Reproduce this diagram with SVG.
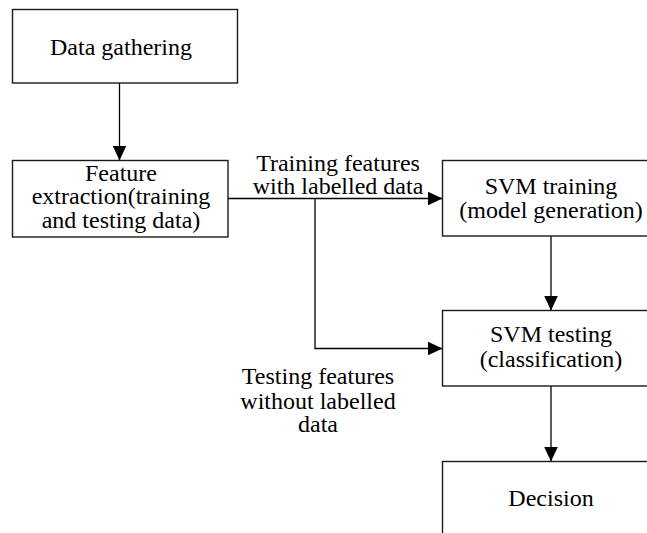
<svg xmlns="http://www.w3.org/2000/svg" width="647" height="533" viewBox="0 0 647 533">
<defs>
<style>
.box{fill:#fff;stroke:#1a1a1a;stroke-width:1.4}
.ln{fill:none;stroke:#000;stroke-width:1.3}
.t{fill:#000;text-anchor:middle;font-size:24px}
</style>
<marker id="ah" markerUnits="userSpaceOnUse" markerWidth="16" markerHeight="14" refX="15" refY="7" orient="auto">
<path d="M0,0 L15,7 L0,14 Z" fill="#000"/>
</marker>
</defs>
<rect width="647" height="533" fill="#fff"/>
<g id="connectors">
<line class="ln" x1="119.5" y1="83" x2="119.5" y2="160.5" marker-end="url(#ah)"/>
<line class="ln" x1="228" y1="198.5" x2="442.5" y2="198.5" marker-end="url(#ah)"/>
<polyline class="ln" points="315,198.5 315,348.5 442.5,348.5" marker-end="url(#ah)"/>
<line class="ln" x1="551" y1="236" x2="551" y2="310.5" marker-end="url(#ah)"/>
<line class="ln" x1="551" y1="386" x2="551" y2="461.5" marker-end="url(#ah)"/>
<text class="t" x="338" y="170.5" style="font-family:'Liberation Serif',serif">Training features<tspan x="338" dy="23.5">with labelled data</tspan></text>
<text class="t" x="318" y="383.5" style="font-family:'Liberation Serif',serif">Testing features<tspan x="318" dy="25">without labelled</tspan><tspan x="318" dy="23.5">data</tspan></text>
</g>
<g id="data-gathering">
<rect class="box" x="12.5" y="9.5" width="225" height="73.5"/>
<text class="t" x="121" y="55" style="font-family:'Liberation Serif',serif">Data gathering</text>
</g>
<g id="feature-extraction">
<rect class="box" x="12.5" y="160.5" width="215.5" height="76.5"/>
<text class="t" x="121" y="180.5" style="font-family:'Liberation Serif',serif">Feature<tspan x="121" dy="23.5">extraction(training</tspan><tspan x="121" dy="23.5">and testing data)</tspan></text>
</g>
<g id="svm-training">
<rect class="box" x="442.5" y="160.5" width="220" height="75.5"/>
<text class="t" x="551" y="193.5" style="font-family:'Liberation Serif',serif">SVM training<tspan x="551" dy="24">(model generation)</tspan></text>
</g>
<g id="svm-testing">
<rect class="box" x="442.5" y="310.5" width="220" height="75.5"/>
<text class="t" x="551" y="342" style="font-family:'Liberation Serif',serif">SVM testing<tspan x="551" dy="25">(classification)</tspan></text>
</g>
<g id="decision">
<rect class="box" x="442.5" y="461.5" width="220" height="90"/>
<text class="t" x="551" y="506" style="font-family:'Liberation Serif',serif">Decision</text>
</g>
</svg>
